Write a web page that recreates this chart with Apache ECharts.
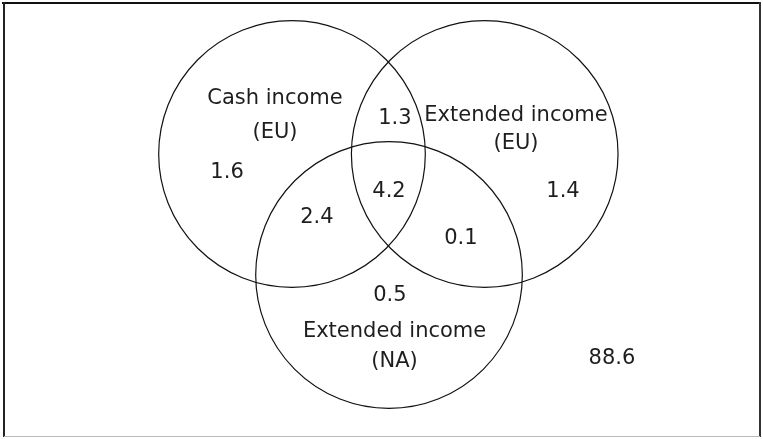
<!DOCTYPE html>
<html>
<head>
<meta charset="utf-8">
<script src="https://cdn.jsdelivr.net/npm/echarts@6/dist/echarts.min.js"></script>
<style>html,body{margin:0;padding:0;background:#fff}#chart{width:763px;height:439px}</style>
</head>
<body>
<div id="chart"></div>
<script>
// ---- Data ----
const setNames = ['Cash income\n(EU)', 'Extended income\n(EU)', 'Extended income\n(NA)'];
const regionNames = ['Cash (EU) only', 'Extended (EU) only', 'Extended (NA) only',
  'Cash (EU) & Extended (EU)', 'Cash (EU) & Extended (NA)', 'Extended (EU) & Extended (NA)',
  'All three', 'None'];
const regionValues = [1.6, 1.4, 0.5, 1.3, 2.4, 0.1, 4.2, 88.6];

// ---- Layout (diagram units: circle radius = 1) ----
const circleCenters = [[0, 0], [1.46, 0], [0.735, -0.917]];
const circleRadius = 1.01;
const setLabelPos = [[-0.129, 0.295], [1.697, 0.189], [0.777, -1.455]];
const setLabelLineHeight = [34, 28, 30];
const regionLabelPos = [[-0.492, -0.144], [2.053, -0.288], [0.742, -1.076],
  [0.780, 0.265], [0.189, -0.485], [1.280, -0.644], [0.735, -0.288], [2.424, -1.553]];

const FONT = '21px "DejaVu Sans"';
const TEXT_COLOR = '#1e1e1e';
const chart = echarts.init(document.getElementById('chart'), null, {renderer: 'canvas'});

chart.setOption({
  animation: false,
  backgroundColor: '#fff',
  grid: {left: 28, top: 22, width: 726, height: 396},
  xAxis: {type: 'value', min: -2, max: 3.5, show: false},
  yAxis: {type: 'value', min: -2, max: 1, show: false},
  graphic: [
    {type: 'line', shape: {x1: 2, y1: 3, x2: 761, y2: 3}, style: {stroke: '#111', lineWidth: 2}},
    {type: 'line', shape: {x1: 4, y1: 2, x2: 4, y2: 437}, style: {stroke: '#222', lineWidth: 2}},
    {type: 'line', shape: {x1: 760, y1: 2, x2: 760, y2: 437}, style: {stroke: '#333', lineWidth: 2}},
    {type: 'line', shape: {x1: 4, y1: 436.5, x2: 760, y2: 436.5}, style: {stroke: '#bbb', lineWidth: 1}}
  ],
  series: [
    {
      type: 'custom', name: 'sets', clip: false,
      data: circleCenters.map((c, i) => [c[0], c[1], circleRadius]),
      renderItem: (params, api) => {
        const p = api.coord([api.value(0), api.value(1)]);
        const r = api.size([api.value(2), 0])[0];
        return {type: 'circle', shape: {cx: p[0], cy: p[1], r: r},
          style: {fill: 'none', stroke: '#111', lineWidth: 1.2}};
      }
    },
    {
      type: 'custom', name: 'setLabels', clip: false,
      data: setLabelPos.map((p) => [p[0], p[1]]),
      renderItem: (params, api) => {
        const p = api.coord([api.value(0), api.value(1)]);
        return {type: 'text', x: p[0], y: p[1],
          style: {text: setNames[params.dataIndex], font: FONT, fill: TEXT_COLOR, align: 'center', verticalAlign: 'middle', lineHeight: setLabelLineHeight[params.dataIndex]}};
      }
    },
    {
      type: 'custom', name: 'regions', clip: false,
      data: regionLabelPos.map((p, i) => [p[0], p[1], regionValues[i]]),
      renderItem: (params, api) => {
        const p = api.coord([api.value(0), api.value(1)]);
        return {type: 'text', x: p[0], y: p[1],
          style: {text: api.value(2).toFixed(1), font: FONT, fill: TEXT_COLOR, align: 'center', verticalAlign: 'middle'}};
      }
    }
  ]
});
</script>
</body>
</html>
